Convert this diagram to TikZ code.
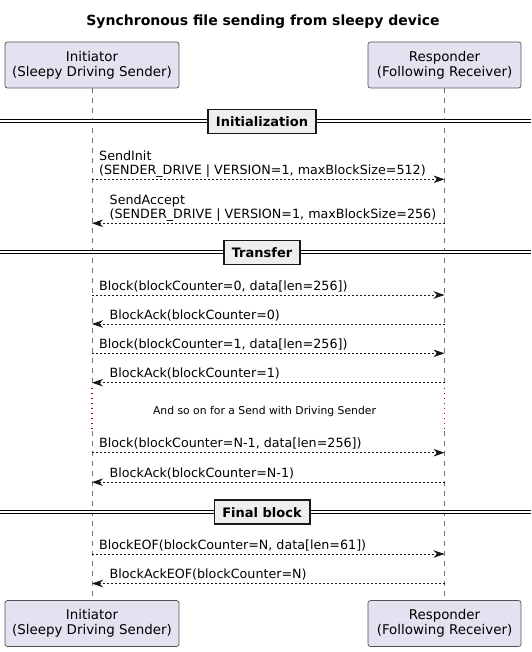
\documentclass[tikz,border=0pt]{standalone}
\usepackage{fontspec}
\setmainfont{DejaVu Sans}
\usetikzlibrary{arrows.meta}
\definecolor{partfill}{HTML}{E2E2F0}
\definecolor{partline}{HTML}{181818}
\definecolor{divfill}{HTML}{EEEEEE}
\definecolor{delayred}{HTML}{A80036}
\begin{document}
\begin{tikzpicture}[x=1pt,y=-1pt,
  font=\fontsize{12.7}{15}\selectfont,
  participant/.style={draw=partline!75, fill=partfill, rounded corners=2.5pt,
    minimum height=46pt, align=center, inner sep=0pt, line width=0.7pt,
    font=\fontsize{13.4}{15}\selectfont},
  lifeline/.style={draw=partline!60, dash pattern=on 5pt off 5pt, line width=0.7pt},
  delayline/.style={draw=delayred, dash pattern=on 1.2pt off 3.8pt, line width=1.1pt},
  msg/.style={draw=partline, dash pattern=on 2pt off 2pt, line width=0.8pt,
    -{Stealth[length=11pt,width=7.5pt,inset=3.5pt]}},
  lbl/.style={anchor=base west, inner sep=0pt},
  divline/.style={draw=black, double=white, double distance=2pt, line width=1pt},
  divbox/.style={draw=partline, fill=divfill, line width=1.6pt,
    font=\bfseries\fontsize{13}{15}\selectfont,
    inner xsep=8pt, inner ysep=0pt, minimum height=24pt},
]
\useasboundingbox (0,0) rectangle (531,652);

% title
\node[font=\bfseries\fontsize{14}{16}\selectfont] (title) at (263,22) {Synchronous file sending from sleepy device};

% participants
\node[participant, minimum width=174pt] (itop) at (92,65) {Initiator\\(Sleepy Driving Sender)};
\node[participant, minimum width=153pt] (rtop) at (444.5,65) {Responder\\(Following Receiver)};
\node[participant, minimum width=174pt] (ibot) at (92,623.5) {Initiator\\(Sleepy Driving Sender)};
\node[participant, minimum width=153pt] (rbot) at (444.5,623.5) {Responder\\(Following Receiver)};

% lifelines with delay
\coordinate (idA) at (92,388);
\coordinate (idB) at (92,431);
\coordinate (rdA) at (444.5,388);
\coordinate (rdB) at (444.5,431);
\draw[lifeline] (itop.south) -- (idA);
\draw[lifeline] (idB) -- (ibot.north);
\draw[lifeline] (rtop.south) -- (rdA);
\draw[lifeline] (rdB) -- (rbot.north);
\draw[delayline] (idA) -- (idB);
\draw[delayline] (rdA) -- (rdB);

% dividers
\coordinate (d1l) at (0,120.8); \coordinate (d1r) at (531,120.8);
\draw[divline] (d1l) -- (d1r);
\node[divbox] (dinit) at (262,121.5) {Initialization};

\coordinate (d2l) at (0,251.8); \coordinate (d2r) at (531,251.8);
\draw[divline] (d2l) -- (d2r);
\node[divbox] (dtrans) at (262,252.6) {Transfer};

\coordinate (d3l) at (0,511.5); \coordinate (d3r) at (531,511.5);
\draw[divline] (d3l) -- (d3r);
\node[divbox] (dfinal) at (262,512.2) {Final block};

% messages
\coordinate (i1) at (92,179.3); \coordinate (r1) at (444.5,179.3);
\draw[msg] (i1) -- (r1);
\node[lbl] (t1a) at (99,160.8) {SendInit};
\node[lbl] (t1b) at (99,174.3) {(SENDER\_DRIVE | VERSION=1, maxBlockSize=512)};

\coordinate (i2) at (92,223.3); \coordinate (r2) at (444.5,223.3);
\draw[msg] (r2) -- (i2);
\node[lbl] (t2a) at (109.5,204.5) {SendAccept};
\node[lbl] (t2b) at (109.5,218.2) {(SENDER\_DRIVE | VERSION=1, maxBlockSize=256)};

\coordinate (i3) at (92,295); \coordinate (r3) at (444.5,295);
\draw[msg] (i3) -- (r3);
\node[lbl] (t3) at (99,290) {Block(blockCounter=0, data[len=256])};

\coordinate (i4) at (92,324); \coordinate (r4) at (444.5,324);
\draw[msg] (r4) -- (i4);
\node[lbl] (t4) at (109.5,319) {BlockAck(blockCounter=0)};

\coordinate (i5) at (92,353.3); \coordinate (r5) at (444.5,353.3);
\draw[msg] (i5) -- (r5);
\node[lbl] (t5) at (99,348.3) {Block(blockCounter=1, data[len=256])};

\coordinate (i6) at (92,382.7); \coordinate (r6) at (444.5,382.7);
\draw[msg] (r6) -- (i6);
\node[lbl] (t6) at (109.5,377.7) {BlockAck(blockCounter=1)};

\node[font=\fontsize{10.8}{13}\selectfont, anchor=base, inner sep=0pt] (delay) at (264.5,414) {And so on for a Send with Driving Sender};

\coordinate (i7) at (92,452.7); \coordinate (r7) at (444.5,452.7);
\draw[msg] (i7) -- (r7);
\node[lbl] (t7) at (99,447.7) {Block(blockCounter=N-1, data[len=256])};

\coordinate (i8) at (92,482.2); \coordinate (r8) at (444.5,482.2);
\draw[msg] (r8) -- (i8);
\node[lbl] (t8) at (109.5,477.2) {BlockAck(blockCounter=N-1)};

\coordinate (i9) at (92,554); \coordinate (r9) at (444.5,554);
\draw[msg] (i9) -- (r9);
\node[lbl] (t9) at (99,549) {BlockEOF(blockCounter=N, data[len=61])};

\coordinate (i10) at (92,583.5); \coordinate (r10) at (444.5,583.5);
\draw[msg] (r10) -- (i10);
\node[lbl] (t10) at (109.5,578.5) {BlockAckEOF(blockCounter=N)};
\end{tikzpicture}
\end{document}
